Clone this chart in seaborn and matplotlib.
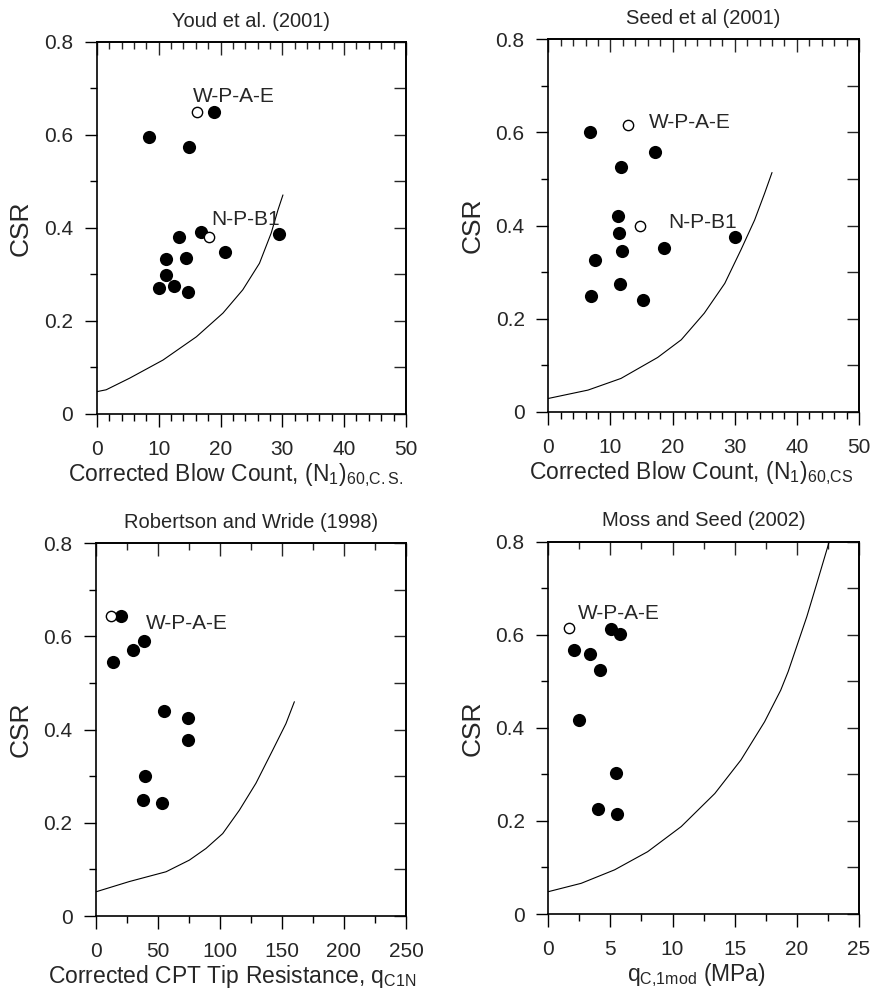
import numpy as np
import pandas as pd
import seaborn as sns
import matplotlib.pyplot as plt
from matplotlib.ticker import MultipleLocator

# ---- Youd et al. (2001) ----
youd_x = [8.5, 14.9, 19.0, 16.9, 13.3, 11.1, 14.4, 20.7, 29.5, 11.2, 10.0, 12.4, 14.7]
youd_y = [0.595, 0.574, 0.649, 0.392, 0.380, 0.334, 0.335, 0.349, 0.386, 0.298, 0.271, 0.276, 0.262]
youd_open_x = [16.2, 18.2]
youd_open_y = [0.649, 0.380]
youd_curve_x = [0, 1.5, 5.3, 10.7, 16.1, 20.4, 23.6, 26.3, 28.2, 29.3, 30.1]
youd_curve_y = [0.048, 0.052, 0.077, 0.116, 0.166, 0.217, 0.267, 0.324, 0.389, 0.439, 0.471]

# ---- Seed et al (2001) ----
seed_x = [6.7, 17.2, 11.7, 11.25, 11.4, 11.8, 7.5, 18.7, 30.1, 6.9, 11.6, 15.2]
seed_y = [0.601, 0.559, 0.525, 0.421, 0.384, 0.346, 0.327, 0.351, 0.375, 0.250, 0.274, 0.240]
seed_open_x = [12.9, 14.8]
seed_open_y = [0.616, 0.399]
seed_curve_x = [0, 6.4, 11.7, 17.6, 21.4, 25.1, 28.4, 31.0, 33.2, 34.8, 36.0]
seed_curve_y = [0.029, 0.047, 0.072, 0.117, 0.155, 0.212, 0.276, 0.348, 0.412, 0.469, 0.514]

# ---- Robertson and Wride (1998) ----
rw_x = [19.9, 14.0, 29.6, 39.0, 54.6, 73.9, 73.9, 39.5, 38.2, 53.5]
rw_y = [0.645, 0.546, 0.570, 0.591, 0.441, 0.424, 0.377, 0.300, 0.250, 0.243]
rw_open_x = [11.8]
rw_open_y = [0.645]
rw_curve_x = [0, 26.9, 56.5, 75.3, 88.7, 102.2, 115.6, 129, 142.5, 153.2, 160]
rw_curve_y = [0.052, 0.074, 0.095, 0.120, 0.145, 0.177, 0.227, 0.285, 0.356, 0.413, 0.460]

# ---- Moss and Seed (2002) ----
ms_x = [2.09, 3.35, 4.18, 5.04, 5.81, 2.47, 5.44, 3.97, 5.52]
ms_y = [0.568, 0.558, 0.524, 0.612, 0.601, 0.418, 0.304, 0.226, 0.215]
ms_open_x = [1.69]
ms_open_y = [0.614]
ms_curve_x = [0, 2.65, 5.34, 8.0, 10.7, 13.4, 15.5, 17.4, 18.7, 19.3, 20.8, 21.6, 22.6]
ms_curve_y = [0.048, 0.066, 0.095, 0.134, 0.188, 0.259, 0.331, 0.413, 0.481, 0.521, 0.639, 0.71, 0.80]

sns.set_style("ticks")
plt.rcParams['font.family'] = ['Liberation Sans', 'DejaVu Sans']
plt.rcParams['mathtext.default'] = 'regular'

fig = plt.figure(figsize=(8.73, 9.92), dpi=100)

panels = [
    dict(rect=[0.111, 0.5827, 0.354, 0.375], title="Youd et al. (2001)",
         x=youd_x, y=youd_y, ox=youd_open_x, oy=youd_open_y, cx=youd_curve_x, cy=youd_curve_y,
         xmax=50, xmaj=10, xmin=2, xlabel="Corrected Blow Count, (N$_1$)$_{60{,}C{.}S{.}}$", xlx=0.45,
         labels=[("W-P-A-E", 22.1, 0.683), ("N-P-B1", 24.1, 0.418)]),
    dict(rect=[0.628, 0.5847, 0.356, 0.3757], title="Seed et al (2001)",
         x=seed_x, y=seed_y, ox=seed_open_x, oy=seed_open_y, cx=seed_curve_x, cy=seed_curve_y,
         xmax=50, xmaj=10, xmin=2, xlabel="Corrected Blow Count, (N$_1$)$_{60{,}CS}$", xlx=0.46,
         labels=[("W-P-A-E", 22.8, 0.622), ("N-P-B1", 24.8, 0.406)]),
    dict(rect=[0.110, 0.0766, 0.355, 0.3757], title="Robertson and Wride (1998)",
         x=rw_x, y=rw_y, ox=rw_open_x, oy=rw_open_y, cx=rw_curve_x, cy=rw_curve_y,
         xmax=250, xmaj=50, xmin=25, xlabel="Corrected CPT Tip Resistance, q$_{C1N}$", xlx=0.44,
         labels=[("W-P-A-E", 73, 0.628)]),
    dict(rect=[0.628, 0.0786, 0.356, 0.3753], title="Moss and Seed (2002)",
         x=ms_x, y=ms_y, ox=ms_open_x, oy=ms_open_y, cx=ms_curve_x, cy=ms_curve_y,
         xmax=25, xmaj=5, xmin=2.5, xlabel="q$_{C{,}1mod}$ (MPa)", xlx=0.476,
         labels=[("W-P-A-E", 5.7, 0.646)]),
]

for p in panels:
    ax = fig.add_axes(p["rect"])
    curve = pd.DataFrame({"x": p["cx"], "y": p["cy"]})
    sns.lineplot(data=curve, x="x", y="y", ax=ax, color="black", lw=0.8,
                 estimator=None, sort=False)
    sns.scatterplot(x=p["x"], y=p["y"], ax=ax, color="black", s=90,
                    edgecolor="black", linewidth=0, zorder=3)
    sns.scatterplot(x=p["ox"], y=p["oy"], ax=ax, facecolor="white", s=55,
                    edgecolor="black", linewidth=1.0, zorder=4)
    for txt, tx, ty in p["labels"]:
        ax.text(tx, ty, txt, fontsize=15, ha="center", va="center")

    ax.set_xlim(0, p["xmax"])
    ax.set_ylim(0, 0.8)
    ax.set_xticks(np.arange(0, p["xmax"] + 0.1, p["xmaj"]))
    ax.set_xticklabels([f"{v:g}" for v in np.arange(0, p["xmax"] + 0.1, p["xmaj"])])
    ax.xaxis.set_minor_locator(MultipleLocator(p["xmin"]))
    ax.set_yticks([0, 0.2, 0.4, 0.6, 0.8])
    ax.set_yticklabels(["0", "0.2", "0.4", "0.6", "0.8"])
    ax.yaxis.set_minor_locator(MultipleLocator(0.1))
    ax.tick_params(which="both", direction="out", top=False, right=False,
                   labelsize=15, width=1.0, color="black")
    ax.tick_params(axis="x", which="major", length=9, pad=10)
    ax.tick_params(axis="y", which="major", length=9, pad=8)
    ax.tick_params(which="minor", length=5)

    top = ax.secondary_xaxis("top")
    top.set_xticks(np.arange(0, p["xmax"] + 0.1, p["xmaj"]))
    top.xaxis.set_minor_locator(MultipleLocator(p["xmin"]))
    top.tick_params(which="both", direction="in", labeltop=False, width=1.0)
    top.tick_params(which="major", length=9)
    top.tick_params(which="minor", length=5)
    right = ax.secondary_yaxis("right")
    right.set_yticks(np.arange(0, 0.81, 0.1))
    right.tick_params(direction="in", labelright=False, length=9, width=1.0)

    for sp in list(ax.spines.values()) + [top.spines["top"], right.spines["right"]]:
        sp.set_linewidth(1.2)
        sp.set_color("black")

    ax.set_title(p["title"], fontsize=14.5, pad=11)
    ax.set_xlabel(p["xlabel"], fontsize=16.5, labelpad=1, x=p["xlx"])
    ax.set_ylabel("CSR", fontsize=19, labelpad=8)

fig.savefig("out.png", dpi=100)
